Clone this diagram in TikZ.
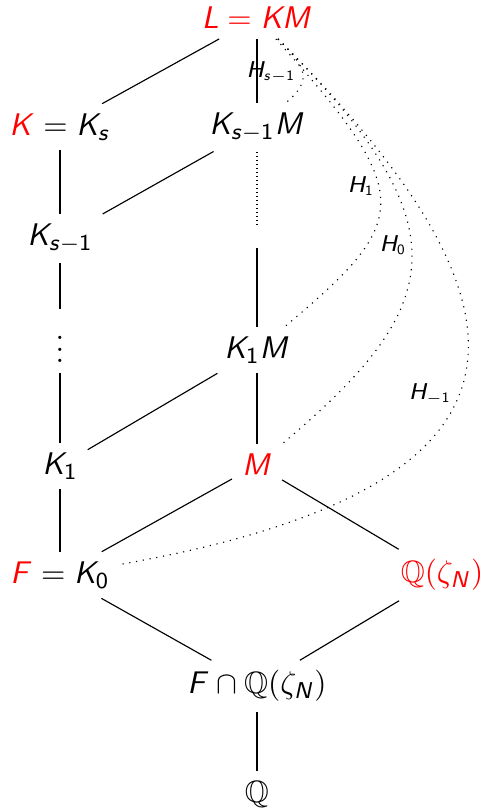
\documentclass[tikz,border=0pt]{standalone}
\usepackage{amssymb}
\DeclareSymbolFont{sfit}{OT1}{cmss}{m}{sl}
\DeclareSymbolFont{sfup}{OT1}{cmss}{m}{n}
\DeclareMathSymbol{K}{\mathalpha}{sfit}{`K}
\DeclareMathSymbol{L}{\mathalpha}{sfit}{`L}
\DeclareMathSymbol{M}{\mathalpha}{sfit}{`M}
\DeclareMathSymbol{F}{\mathalpha}{sfit}{`F}
\DeclareMathSymbol{H}{\mathalpha}{sfit}{`H}
\DeclareMathSymbol{N}{\mathalpha}{sfit}{`N}
\DeclareMathSymbol{s}{\mathalpha}{sfit}{`s}
\DeclareMathSymbol{0}{\mathalpha}{sfup}{`0}
\DeclareMathSymbol{1}{\mathalpha}{sfup}{`1}
\begin{document}
\begin{tikzpicture}[x=0.35pt,y=0.35pt,
  every node/.style={font=\fontsize{10.8}{13}\selectfont},
  lab/.style={font=\fontsize{7.8}{9.5}\selectfont, inner sep=1pt},
  conn/.style={line width=0.4pt},
  hcurve/.style={dotted, line width=0.4pt}]
\useasboundingbox (0,0) rectangle (479,-809);
\node (L)   at (257,-18)  {$\color{red}L=KM$};
\node (Ks)  at (60,-127)  {${\color{red}K}=K_s$};
\node (KsM) at (257,-127) {$K_{s-1}M$};
\node (Ks1) at (60,-238)  {$K_{s-1}$};
\node (vd)  at (60,-341)  {$\vdots$};
\node[inner sep=0pt, minimum width=0pt, minimum height=6.7pt] (mid) at (257,-237.5) {};
\node (K1M) at (257,-350) {$K_1M$};
\node (K1)  at (60,-466)  {$K_1$};
\node (M)   at (257,-465) {$\color{red}M$};
\node (F)   at (60,-575)  {${\color{red}F}=K_0$};
\node (QN)  at (442,-575) {$\color{red}\mathbb{Q}(\zeta_N)$};
\node (FQ)  at (257,-686) {$F\cap\mathbb{Q}(\zeta_N)$};
\node (Q)   at (257,-794) {$\mathbb{Q}$};

\draw[conn] (L) -- (Ks);
\draw[conn] (L) -- (KsM);
\draw[conn] (Ks) -- (Ks1);
\draw[conn] (KsM) -- (Ks1);
\draw[conn, densely dotted] (KsM) -- (mid);
\draw[conn] (mid) -- (K1M);
\draw[conn] (Ks1) -- (vd);
\draw[conn] (vd) -- (K1);
\draw[conn] (K1M) -- (K1);
\draw[conn] (K1M) -- (M);
\draw[conn] (K1) -- (F);
\draw[conn] (M) -- (F);
\draw[conn] (M) -- (QN);
\draw[conn] (F) -- (FQ);
\draw[conn] (QN) -- (FQ);
\draw[conn] (FQ) -- (Q);

\draw[hcurve] (L) to[out=-45, in=40, out distance=14pt, in distance=12.25pt] (KsM);
\draw[hcurve] (L) to[out=-48, in=40, out distance=74pt, in distance=57.75pt] (K1M);
\draw[hcurve] (L) to[out=-45, in=40, out distance=92.75pt, in distance=75.25pt] (M);
\draw[hcurve] (L) to[out=-45, in=10, out distance=133pt, in distance=157.5pt] (F);

\node[lab] (h1) at (271,-72)  {$H_{s-1}$};
\node[lab] (h2) at (361,-186) {$H_1$};
\node[lab] (h3) at (393,-245) {$H_0$};
\node[lab] (h4) at (430,-394) {$H_{-1}$};
\end{tikzpicture}
\end{document}
